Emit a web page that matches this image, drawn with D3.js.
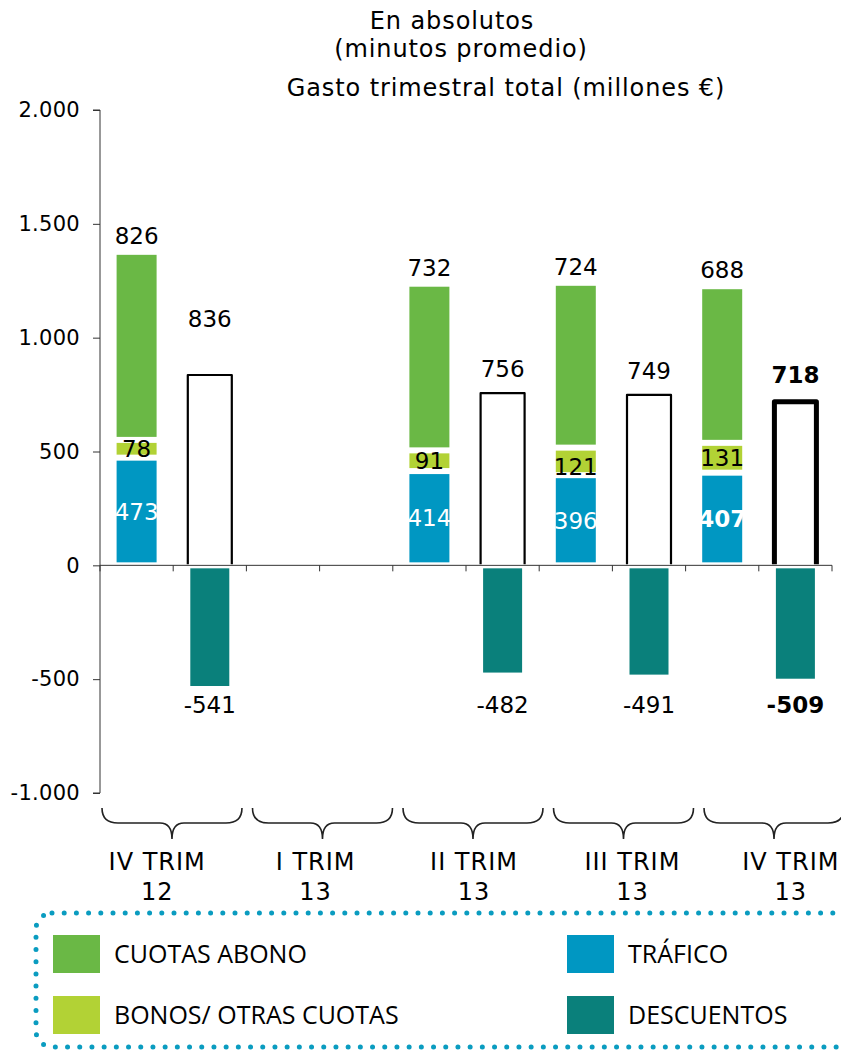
<!DOCTYPE html>
<html>
<head>
<meta charset="utf-8">
<script src="https://cdn.jsdelivr.net/npm/d3@7"></script>
<style>
  html, body { margin: 0; padding: 0; background: #fff; }
  svg { display: block; }
</style>
</head>
<body>
<svg id="chart" width="841" height="1050"></svg>
<script>
// ---- data ----
const periodLine1 = ["IV TRIM", "I TRIM", "II TRIM", "III TRIM", "IV TRIM"];
const periodLine2 = ["12", "13", "13", "13", "13"];
const trafico    = [473, null, 414, 396, 407];
const bonos      = [78,  null, 91,  121, 131];
const cuotas     = [826, null, 732, 724, 688];
const total      = [836, null, 756, 749, 718];
const descuentos = [-541, null, -482, -491, -509];
const yTicks     = [-1000, -500, 0, 500, 1000, 1500, 2000];
const titles     = ["En absolutos", "(minutos promedio)", "Gasto trimestral total (millones €)"];
const legendItems = ["CUOTAS ABONO", "BONOS/ OTRAS CUOTAS", "TRÁFICO", "DESCUENTOS"];

// ---- styles / layout ----
const colors = { cuotas: "#6ab845", bonos: "#b2d235", trafico: "#0097c2", descuentos: "#0a807b" };
const FONT = "'DejaVu Sans', Verdana, sans-serif";
const highlightIdx = 4;
const totalLabelLift = [48, 13, 16, 16, 19];
const bonosLabelShift = [0, 0, 0, 5, 0];

const svg = d3.select("#chart");

const y = d3.scaleLinear().domain([-1000, 2000]).range([793, 110]);
const idx = d3.range(periodLine1.length);
const xGroup = d3.scaleBand().domain(idx).range([100, 832]).padding(0);
const xSub = d3.scaleBand().domain([0, 1]).range([0, xGroup.bandwidth()]).padding(0);
const cx = (g, s) => xGroup(g) + xSub(s) + xSub.bandwidth() / 2;
const xBrace = d3.scaleBand().domain(idx).range([102, 844]).paddingInner(0.07).paddingOuter(0);
const xLabel = d3.scaleBand().domain(idx).range([78, 870]).padding(0);
const fmt = v => d3.format(",")(v).replace(/,/g, ".").replace("\u2212", "-");

// ---- titles ----
const titlePos = [[452, 29], [461, 57], [506, 96]];
titles.forEach((t, k) => {
  svg.append("text").attr("x", titlePos[k][0]).attr("y", titlePos[k][1]).attr("text-anchor", "middle")
    .style("font-family", FONT).style("font-size", "24px").style("letter-spacing", "0.9px").text(t);
});

// ---- y axis ----
const yAxis = d3.axisLeft(y).tickValues(yTicks).tickSize(7).tickPadding(13).tickFormat(fmt);
const gy = svg.append("g").attr("transform", "translate(100,0)").call(yAxis);
gy.select(".domain").attr("stroke", "#333").attr("d", `M-7,${y(2000)}H0V${y(-1000)}H-7`);
gy.selectAll(".tick line").attr("stroke", "#333");
gy.selectAll(".tick text").style("font-family", FONT).style("font-size", "21px")
  .style("letter-spacing", "0.3px").attr("fill", "#000");

// ---- x axis at zero ----
const boundaries = d3.range(periodLine1.length * 2 + 1).map(i => 100 + i * xSub.bandwidth());
svg.append("line").attr("x1", 100).attr("x2", 832).attr("y1", y(0)).attr("y2", y(0)).attr("stroke", "#333");
svg.selectAll(".xtick").data(boundaries).enter().append("line")
  .attr("x1", d => d).attr("x2", d => d).attr("y1", y(0)).attr("y2", y(0) + 6).attr("stroke", "#333");

// ---- stacked bars ----
const rows = periodLine1.map((p, i) => ({ i, trafico: trafico[i] || 0, bonos: bonos[i] || 0, cuotas: cuotas[i] || 0 }));
const keys = ["trafico", "bonos", "cuotas"];
const stack = d3.stack().keys(keys)(rows);
const BW = 40, INSET = 3;
stack.forEach(layer => {
  svg.append("g").selectAll("rect").data(layer.filter(d => d[1] - d[0] > 0)).enter().append("rect")
    .attr("x", d => cx(d.data.i, 0) - BW / 2)
    .attr("width", BW)
    .attr("y", d => y(d[1]) + INSET)
    .attr("height", d => y(d[0]) - y(d[1]) - 2 * INSET)
    .attr("fill", colors[layer.key]);
});

// segment labels
const cuotasLayer = stack[2], bonosLayer = stack[1], traficoLayer = stack[0];
cuotasLayer.forEach(d => {
  if (cuotas[d.data.i] == null) return;
  svg.append("text").attr("x", cx(d.data.i, 0)).attr("y", y(d[1]) - 8).attr("text-anchor", "middle")
    .style("font-family", FONT).style("font-size", "23px").text(cuotas[d.data.i]);
});
bonosLayer.forEach(d => {
  if (bonos[d.data.i] == null) return;
  svg.append("text").attr("x", cx(d.data.i, 0)).attr("y", (y(d[0]) + y(d[1])) / 2 + bonosLabelShift[d.data.i])
    .attr("dy", "0.36em").attr("text-anchor", "middle")
    .style("font-family", FONT).style("font-size", "23px").text(bonos[d.data.i]);
});
traficoLayer.forEach(d => {
  if (trafico[d.data.i] == null) return;
  svg.append("text").attr("x", cx(d.data.i, 0)).attr("y", (y(d[0]) + y(d[1])) / 2)
    .attr("dy", "0.36em").attr("text-anchor", "middle").attr("fill", "#fff")
    .style("font-weight", d.data.i === highlightIdx ? "bold" : "normal")
    .style("font-family", FONT).style("font-size", "23px").text(trafico[d.data.i]);
});

// ---- total boxes ----
total.forEach((v, i) => {
  if (v == null) return;
  const c = cx(i, 1), hl = i === highlightIdx;
  const sw = hl ? 5 : 2.2;
  const half = hl ? 21 : 22;
  svg.append("path")
    .attr("d", `M${c - half},${y(0) - 1}V${y(v)}H${c + half}V${y(0) - 1}`)
    .attr("fill", "#fff").attr("stroke", "#000").attr("stroke-width", sw).attr("stroke-linejoin", "round");
  svg.append("text").attr("x", c).attr("y", y(v) - totalLabelLift[i]).attr("text-anchor", "middle")
    .style("font-weight", hl ? "bold" : "normal")
    .style("font-family", FONT).style("font-size", "23px").text(v);
});

// ---- descuentos ----
const descLabelY = y(d3.min(descuentos)) + 24;
descuentos.forEach((v, i) => {
  if (v == null) return;
  const c = cx(i, 1), hl = i === highlightIdx;
  svg.append("rect").attr("x", c - 19.5).attr("width", 39)
    .attr("y", y(0) + INSET).attr("height", y(v) - y(0) - INSET - 2.5)
    .attr("fill", colors.descuentos);
  svg.append("text").attr("x", c).attr("y", descLabelY).attr("text-anchor", "middle")
    .style("font-weight", hl ? "bold" : "normal")
    .style("font-family", FONT).style("font-size", "23px").text(fmt(v));
});

// ---- braces & category labels ----
idx.forEach(i => {
  const x0 = xBrace(i), x1 = xBrace(i) + xBrace.bandwidth();
  const xc = (x0 + x1) / 2;
  const yt = 808, yf = 823, yp = 839;
  svg.append("path")
    .attr("d", `M${x0},${yt}Q${x0},${yf} ${x0 + 16},${yf}L${xc - 12},${yf}Q${xc},${yf} ${xc},${yp}` +
               `Q${xc},${yf} ${xc + 12},${yf}L${x1 - 16},${yf}Q${x1},${yf} ${x1},${yt}`)
    .attr("fill", "none").attr("stroke", "#222").attr("stroke-width", 1.6);
  const lx = xLabel(i) + xLabel.bandwidth() / 2;
  svg.append("text").attr("x", lx).attr("y", 870).attr("text-anchor", "middle")
    .style("font-family", FONT).style("font-size", "24px").style("letter-spacing", "1px").text(periodLine1[i]);
  svg.append("text").attr("x", lx).attr("y", 900).attr("text-anchor", "middle")
    .style("font-family", FONT).style("font-size", "24px").style("letter-spacing", "1px").text(periodLine2[i]);
});

// ---- legend ----
svg.append("rect").attr("x", 36).attr("y", 913).attr("width", 830).attr("height", 134)
  .attr("rx", 16).attr("ry", 16)
  .attr("fill", "none").attr("stroke", "#0a9cc0").attr("stroke-width", 5)
  .attr("stroke-linecap", "round").attr("stroke-dasharray", "0 12.2");
const legendKeys = ["cuotas", "bonos", "trafico", "descuentos"];
const legendPos = [[53, 935], [53, 996], [567, 935], [567, 996]];
legendKeys.forEach((k, j) => {
  const [lx, ly] = legendPos[j];
  svg.append("rect").attr("x", lx).attr("y", ly).attr("width", 47).attr("height", 38).attr("fill", colors[k]);
  svg.append("text").attr("x", lx + 61).attr("y", ly + 28)
    .style("font-family", "'Open Sans', sans-serif").style("font-size", "25px").text(legendItems[j]);
});
</script>
</body>
</html>
